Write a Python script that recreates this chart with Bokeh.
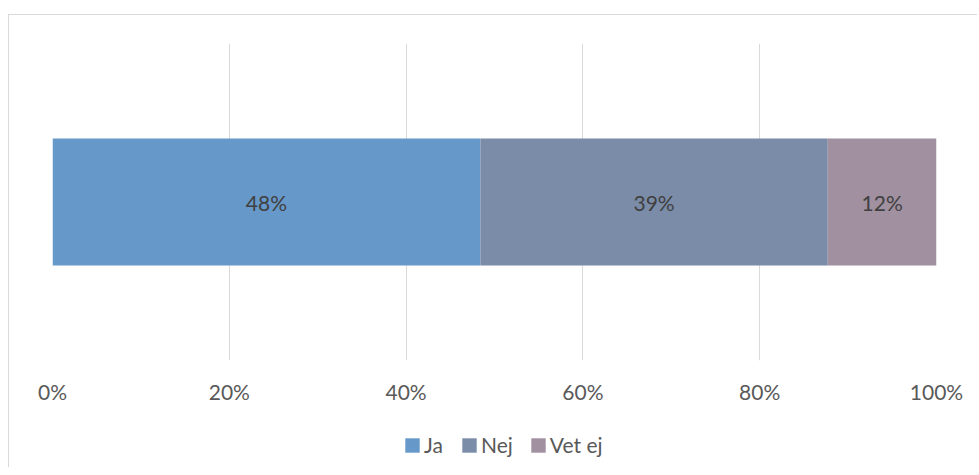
from bokeh.plotting import figure
from bokeh.layouts import column
from bokeh.models import Range1d, FixedTicker, NumeralTickFormatter, Legend, LegendItem, ColumnDataSource
from bokeh.core.properties import value
from bokeh.embed import file_html
from bokeh.resources import INLINE

categories = ["Ja", "Nej", "Vet ej"]
shares = [0.484, 0.393, 0.123]
labels = ["48%", "39%", "12%"]
colors = ["#6699c9", "#7a8ca8", "#a090a0"]
ticks = [0, 0.2, 0.4, 0.6, 0.8, 1.0]

FONT = "Lato"

p = figure(width=968, height=400, output_backend="svg", toolbar_location=None,
           x_range=Range1d(0, 1), y_range=Range1d(0, 1),
           min_border_left=43, min_border_right=41, min_border_top=28, min_border_bottom=55)
p.outline_line_color = None
p.background_fill_color = "white"
p.border_fill_color = "white"

lefts = []
rights = []
acc = 0.0
for s in shares:
    lefts.append(acc)
    acc += s
    rights.append(acc)
mids = [(l + r) / 2 for l, r in zip(lefts, rights)]

for i, cat in enumerate(categories):
    p.hbar(y=[0.5], left=[lefts[i]], right=[rights[i]], height=0.4,
           fill_color=colors[i], line_color=None)

src = ColumnDataSource(dict(x=mids, y=[0.5] * 3, t=labels))
p.text(x="x", y="y", text="t", source=src, text_align="center", text_baseline="middle",
       text_font=value(FONT), text_font_size="21px", text_color="#404040")

p.yaxis.visible = False
p.ygrid.visible = False
p.xaxis.ticker = FixedTicker(ticks=ticks)
p.xaxis.formatter = NumeralTickFormatter(format="0%")
p.xaxis.axis_line_color = None
p.xaxis.major_tick_line_color = None
p.xaxis.minor_tick_line_color = None
p.xaxis.major_tick_out = 0
p.xaxis.major_tick_in = 0
p.xaxis.major_label_standoff = 18
p.xaxis.major_label_text_font = FONT
p.xaxis.major_label_text_font_size = "21px"
p.xaxis.major_label_text_color = "#595959"
p.xgrid.ticker = FixedTicker(ticks=ticks)
p.xgrid.grid_line_color = "#d9d9d9"
p.xgrid.grid_line_width = 1

# legend strip below the chart (its swatch renderers sit outside the visible range)
pl = figure(width=968, height=52, output_backend="svg", toolbar_location=None,
            x_range=Range1d(0, 1), y_range=Range1d(0, 1),
            min_border_left=0, min_border_right=0, min_border_top=0, min_border_bottom=0)
pl.outline_line_color = None
pl.axis.visible = False
pl.grid.visible = False
pl.background_fill_color = "white"
pl.border_fill_color = "white"

items = []
for i, cat in enumerate(categories):
    r = pl.hbar(y=[-5], left=[lefts[i]], right=[rights[i]], height=0.4,
                fill_color=colors[i], line_color=None)
    items.append(LegendItem(label=cat, renderers=[r]))

legend = Legend(items=items, location=(351, 10), orientation="horizontal")
legend.padding = 0
legend.margin = 0
legend.spacing = 16
legend.label_standoff = 3
legend.glyph_width = 18
legend.glyph_height = 18
legend.border_line_color = None
legend.background_fill_alpha = 0
legend.label_text_font = FONT
legend.label_text_font_size = "21px"
legend.label_text_color = "#595959"
pl.add_layout(legend, "center")

layout = column(p, pl, spacing=0)
layout.styles = {"margin-left": "8px", "margin-top": "14px",
                 "border-left": "1px solid #d9d9d9", "border-top": "1px solid #d9d9d9"}

open("out.html", "w").write(file_html(layout, INLINE))
